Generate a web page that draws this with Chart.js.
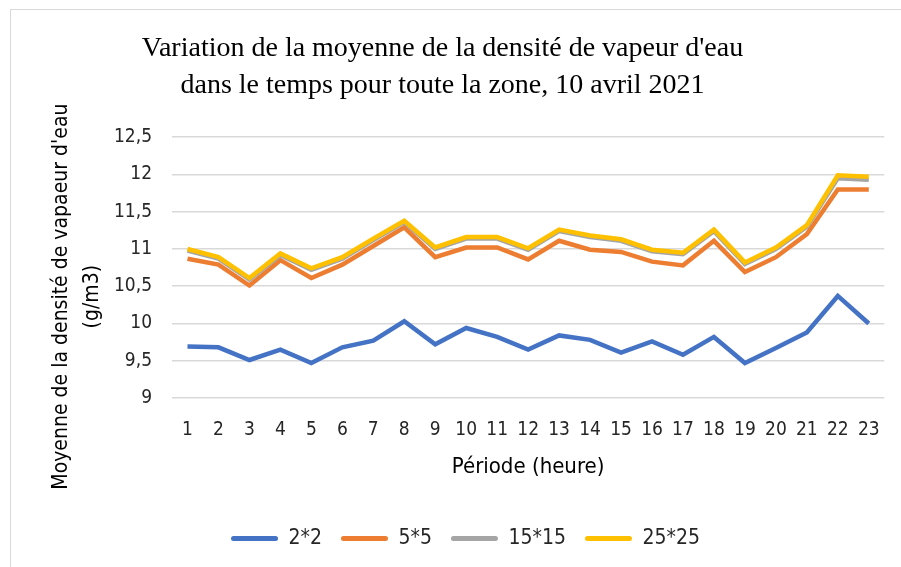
<!DOCTYPE html>
<html>
<head>
<meta charset="utf-8">
<script src="https://cdn.jsdelivr.net/npm/chart.js@4"></script>
<style>
  html, body { margin: 0; padding: 0; background: #fff; }
  #wrap { position: relative; width: 901px; height: 567px; overflow: hidden; }
  #frame { position: absolute; left: 10px; top: 9px; width: 1000px; height: 700px;
    border-left: 1px solid #d9d9d9; border-top: 1px solid #d9d9d9; }
  canvas { position: absolute; left: 0; top: 0; }
</style>
</head>
<body>
<div id="wrap">
  <div id="frame"></div>
  <canvas id="chart" width="901" height="567"></canvas>
</div>
<script>
// data
const hours = ['1','2','3','4','5','6','7','8','9','10','11','12','13','14','15','16','17','18','19','20','21','22','23'];
const s2x2 = [9.69, 9.68, 9.51, 9.65, 9.47, 9.68, 9.77, 10.03, 9.72, 9.94, 9.82, 9.65, 9.84, 9.78, 9.61, 9.76, 9.58, 9.82, 9.47, 9.67, 9.88, 10.37, 10.0];
const s5x5 = [10.87, 10.79, 10.51, 10.85, 10.61, 10.79, 11.04, 11.29, 10.89, 11.02, 11.02, 10.86, 11.11, 10.99, 10.96, 10.83, 10.78, 11.11, 10.69, 10.89, 11.2, 11.8, 11.8];
const s15x15 = [10.98, 10.87, 10.59, 10.92, 10.72, 10.87, 11.12, 11.36, 11.0, 11.14, 11.14, 10.99, 11.24, 11.16, 11.11, 10.97, 10.93, 11.24, 10.8, 11.0, 11.3, 11.95, 11.93];
const s25x25 = [11.0, 10.89, 10.61, 10.94, 10.74, 10.89, 11.14, 11.38, 11.02, 11.16, 11.16, 11.01, 11.26, 11.18, 11.13, 10.99, 10.95, 11.26, 10.82, 11.02, 11.32, 11.99, 11.97];
const seriesNames = ['2*2', '5*5', '15*15', '25*25'];
const titleLines = ['Variation de la moyenne de la densité de vapeur d\'eau', 'dans le temps pour toute la zone, 10 avril 2021'];
const yTitleLines = ['Moyenne de la densité de vapaeur d\'eau', '(g/m3)'];
const xTitle = 'Période (heure)';

const sans = "'Liberation Sans Narrow', 'DejaVu Sans Condensed', sans-serif";
const colors = ['#4472C4', '#ED7D31', '#A5A5A5', '#FFC000'];
const textGrey = '#262626';

const mkSet = (i, data) => ({
  label: seriesNames[i],
  data: data,
  borderColor: colors[i],
  backgroundColor: colors[i],
  borderWidth: 4.5,
  pointRadius: 0,
  tension: 0,
  order: 4 - i // later series on top, like Excel
});

// y axis title drawn by hand so it can sit a bit lower like the original
const yTitlePlugin = {
  id: 'yTitle',
  afterDraw(chart) {
    const { ctx, chartArea } = chart;
    ctx.save();
    ctx.font = "21px " + sans;
    ctx.fillStyle = '#000';
    ctx.textAlign = 'center';
    ctx.textBaseline = 'middle';
    ctx.translate(0, chartArea.top + (chartArea.bottom - chartArea.top) / 2 + 29);
    ctx.rotate(-Math.PI / 2);
    ctx.fillText(yTitleLines[0], 0, 62);
    ctx.fillText(yTitleLines[1], 0, 93);
    ctx.restore();
  }
};

// the legend in the original sits a little right of the title's centre
const legendShift = {
  id: 'legendShift',
  afterLayout(chart) {
    chart.legend.left += 23;
    chart.legend.right += 23;
  }
};

new Chart(document.getElementById('chart'), {
  type: 'line',
  data: {
    labels: hours,
    datasets: [mkSet(0, s2x2), mkSet(1, s5x5), mkSet(2, s15x15), mkSet(3, s25x25)]
  },
  options: {
    responsive: false,
    animation: false,
    layout: { padding: { left: 0, right: 16, top: 0, bottom: 8 } },
    plugins: {
      tooltip: { enabled: false },
      title: {
        display: true,
        text: titleLines,
        color: '#000',
        font: { family: "'Liberation Serif', 'Times New Roman', serif", size: 28, weight: 'normal', lineHeight: 1.29 },
        padding: { top: 31, bottom: 34 }
      },
      legend: {
        position: 'bottom',
        labels: {
          color: textGrey,
          font: { family: sans, size: 21 },
          boxWidth: 47,
          boxHeight: 5,
          useBorderRadius: true,
          borderRadius: 2.5,
          padding: 19,
          sort: (a, b) => a.datasetIndex - b.datasetIndex,
          generateLabels(chart) {
            return Chart.defaults.plugins.legend.labels.generateLabels(chart)
              .map(it => Object.assign(it, { lineWidth: 0 }));
          }
        }
      }
    },
    scales: {
      x: {
        offset: true,
        grid: { display: false, drawTicks: false },
        border: { display: false },
        ticks: { color: textGrey, font: { family: sans, size: 19 }, padding: 21, maxRotation: 0, autoSkip: false },
        title: { display: true, text: xTitle, color: '#000', font: { family: sans, size: 22 }, padding: { top: 0, bottom: 29 } },
        afterFit(scale) { scale.height = 111; }
      },
      y: {
        min: 9,
        max: 12.5,
        grid: { color: '#d9d9d9', lineWidth: 1.5, drawTicks: false },
        border: { display: false },
        ticks: {
          stepSize: 0.5, color: textGrey, font: { family: sans, size: 19 }, padding: 20,
          callback: v => String(v).replace('.', ',')
        },
        afterFit(scale) { scale.width = 172; }
      }
    }
  },
  plugins: [yTitlePlugin, legendShift]
});
</script>
</body>
</html>
